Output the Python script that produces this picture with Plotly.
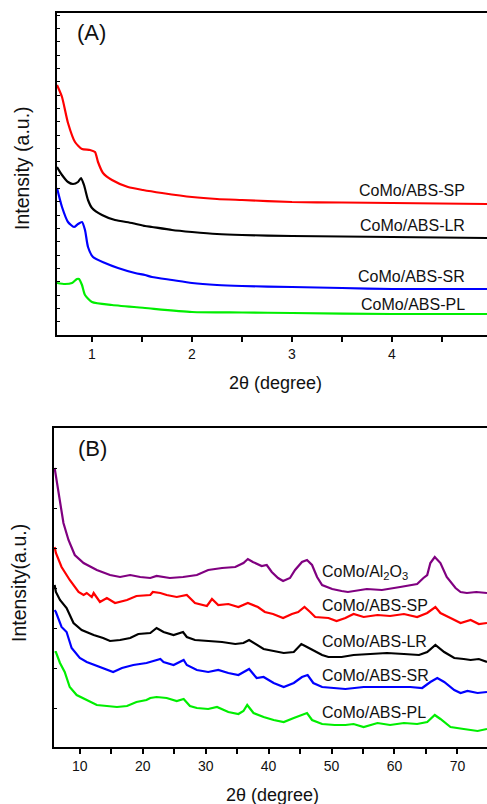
import plotly.graph_objects as go

W, H = 487, 804
FONT = "Liberation Sans, Arial, sans-serif"

# ---------------- Panel A (small-angle XRD) ----------------
a_sp_x = [0.65, 0.70, 0.76, 0.83, 0.90, 0.98, 1.03, 1.06, 1.11, 1.20, 1.36, 1.51, 1.70, 2.0, 2.25, 2.5, 3.0, 3.5, 4.0, 4.95]
a_sp_y = [250, 238, 212, 193, 186, 185, 183, 173, 162, 155, 148, 145, 142, 138, 136, 135, 133, 132.5, 132, 131]

a_lr_x = [0.65, 0.70, 0.76, 0.81, 0.86, 0.89, 0.92, 0.96, 1.00, 1.10, 1.23, 1.40, 1.53, 1.60, 1.80, 2.0, 2.25, 2.5, 3.0, 3.5, 4.0, 4.95]
a_lr_y = [168, 160, 153, 151, 153, 157, 150, 135, 127, 120, 115, 112, 109, 108, 105, 103, 101, 100, 99, 98.5, 98, 97]

a_sr_x = [0.65, 0.70, 0.76, 0.82, 0.86, 0.90, 0.93, 0.96, 1.01, 1.13, 1.26, 1.43, 1.53, 1.60, 1.80, 2.0, 2.25, 2.5, 3.0, 3.5, 4.0, 4.95]
a_sr_y = [147, 128, 113, 108, 111, 113, 105, 88, 78, 72, 67, 62, 60, 58, 55, 52, 50, 49, 48, 47, 46, 46]

a_pl_x = [0.65, 0.73, 0.80, 0.85, 0.87, 0.90, 0.93, 1.00, 1.20, 1.53, 2.0, 2.5, 3.0, 4.0, 4.95]
a_pl_y = [52, 51, 52, 56, 56, 50, 40, 33, 30, 27, 23, 22.5, 22, 21, 21]

a_labels = ["CoMo/ABS-SP", "CoMo/ABS-LR", "CoMo/ABS-SR", "CoMo/ABS-PL"]
a_label_y = [144, 109, 58, 30]

# ---------------- Panel B (wide-angle XRD) ----------------
b_al_x = [6.0, 6.85, 7.4, 8.2, 9.2, 10.6, 12.7, 14.8, 16.4, 18.0, 19.6, 21.2, 22.2, 24.3, 26.4, 28.6,
          30.4, 32.6, 34.7, 36.0, 36.7, 37.5, 38.9, 39.7, 40.5, 41.5, 42.3, 43.4, 44.2, 45.3, 46.1,
          46.9, 47.7, 48.5, 50.1, 51.6, 52.6, 55.6, 58.0, 60.9, 63.6, 64.6, 65.2, 65.7, 66.4, 67.3,
          68.3, 69.7, 70.5, 71.5, 73.0, 74.7]
b_al_y = [279, 244, 224, 207, 192, 184, 177, 172, 170, 172, 170, 169, 171, 169, 170, 172,
          177, 179, 180, 184, 188, 185, 181, 182, 175, 169, 166, 169, 177, 185, 187,
          182, 170, 162, 158, 156, 155, 158, 157, 160, 163, 169, 172, 184, 190, 184,
          170, 159, 155, 154, 155, 154]

b_sp_x = [6.0, 6.2, 7.1, 8.4, 9.8, 10.6, 11.1, 11.9, 12.2, 13.2, 14.3, 15.6, 17.5, 19.0, 21.2, 21.6,
          22.8, 23.8, 25.4, 27.0, 28.3, 30.2, 31.0, 32.0, 33.6, 35.2, 36.7, 38.3, 39.4, 40.7, 42.3,
          43.7, 44.7, 45.7, 46.6, 47.4, 49.5, 50.8, 52.2, 53.5, 55.1, 57.3, 59.3, 61.5, 63.6, 65.2,
          66.5, 67.3, 68.9, 70.5, 72.1, 73.4, 74.7]
b_sp_y = [200, 194, 180, 167, 155, 152, 154, 150, 154, 145, 149, 144, 147, 151, 152, 155,
          154, 152, 150, 152, 144, 141, 148, 142, 143, 140, 144, 140, 135, 133, 129,
          133, 135, 140, 135, 130, 129, 126, 129, 133, 130, 132, 131, 133, 130, 134,
          140, 134, 129, 124, 127, 123, 124]

b_lr_x = [6.0, 6.2, 6.85, 7.9, 9.0, 10.3, 12.2, 13.7, 14.8, 16.4, 18.0, 19.3, 21.2, 22.2, 23.3, 24.9,
          26.4, 27.0, 28.3, 30.4, 32.6, 34.7, 36.0, 36.9, 37.9, 39.2, 40.8, 42.4, 44.0, 45.2, 46.1,
          47.1, 48.5, 49.5, 51.6, 53.5, 56.2, 58.8, 61.5, 63.9, 65.2, 66.5, 67.9, 69.5, 71.0, 72.1,
          73.4, 74.7]
b_lr_y = [162, 155, 147, 139, 124, 117, 112, 109, 106, 107, 109, 113, 114, 119, 115, 112,
          115, 110, 107, 106, 105, 103, 104, 107, 103, 98, 96, 94, 95, 103, 100,
          97, 92, 90, 90, 92, 93, 94, 93, 92, 95, 102, 95, 89, 88, 87,
          88, 85]

b_sr_x = [6.0, 6.2, 7.1, 7.9, 8.7, 10.0, 11.1, 11.9, 13.2, 15.3, 16.7, 18.5, 20.6, 22.8, 23.3, 24.9,
          26.5, 27.0, 28.6, 30.4, 32.0, 33.6, 35.2, 36.9, 38.1, 39.2, 40.8, 42.4, 44.0, 45.3, 46.2,
          47.1, 48.5, 50.5, 52.2, 55.1, 58.8, 62.5, 64.4, 65.7, 66.8, 67.9, 69.5, 70.5, 71.6, 73.2,
          74.7]
b_sr_y = [137, 135, 120, 115, 99, 89, 85, 83, 80, 75, 79, 82, 84, 88, 85, 82,
          87, 82, 77, 75, 77, 74, 72, 78, 69, 70, 64, 60, 64, 70, 72,
          64, 60, 59, 58, 60, 60, 60, 59, 65, 69, 65, 57, 54, 56, 54,
          55]

b_pl_x = [6.0, 6.2, 6.85, 7.6, 8.4, 9.5, 11.1, 12.7, 14.3, 15.9, 17.5, 19.0, 20.6, 21.2, 22.2, 23.8,
          25.4, 26.5, 27.5, 28.6, 30.4, 31.8, 33.6, 35.2, 36.0, 36.6, 37.6, 39.2, 40.8, 42.4, 44.0,
          45.3, 46.1, 46.9, 48.5, 50.5, 52.2, 53.5, 55.1, 57.3, 59.3, 61.5, 63.6, 65.2, 66.4, 67.3,
          68.9, 71.0, 73.2, 74.7]
b_pl_y = [95, 95, 84, 75, 60, 52, 47, 42, 41, 40, 41, 45, 47, 49, 50, 49,
          46, 48, 41, 39, 38, 40, 35, 33, 36, 42, 34, 30, 27, 25, 29,
          32, 34, 27, 23, 22, 22, 23, 20, 24, 22, 24, 23, 25, 32, 28,
          20, 18, 16, 18]

b_labels = ["CoMo/Al<sub>2</sub>O<sub>3</sub>", "CoMo/ABS-SP", "CoMo/ABS-LR", "CoMo/ABS-SR", "CoMo/ABS-PL"]
b_label_y = [175, 142, 106, 72, 35]

colors_a = ["#ff0000", "#000000", "#0000ff", "#00ee00"]
colors_b = ["#800080", "#ff0000", "#000000", "#0000ff", "#00ee00"]


def py(p):
    """pixel row -> paper y"""
    return 1 - p / H


def px(p):
    return p / W


fig = go.Figure()
LW = 2.2
for xs, ys, c in zip([a_sp_x, a_lr_x, a_sr_x, a_pl_x], [a_sp_y, a_lr_y, a_sr_y, a_pl_y], colors_a):
    fig.add_trace(go.Scatter(x=xs, y=ys, mode="lines",
                             line=dict(color=c, width=LW, shape="spline", smoothing=0.6),
                             xaxis="x", yaxis="y", showlegend=False))
for xs, ys, c in zip([b_al_x, b_sp_x, b_lr_x, b_sr_x, b_pl_x],
                     [b_al_y, b_sp_y, b_lr_y, b_sr_y, b_pl_y], colors_b):
    fig.add_trace(go.Scatter(x=xs, y=ys, mode="lines", line=dict(color=c, width=LW),
                             xaxis="x2", yaxis="y2", showlegend=False))

tickfont = dict(family=FONT, size=14, color="#111")
common_x = dict(showline=True, linecolor="black", linewidth=2, ticks="outside", ticklen=5,
                tickwidth=1.5, tickcolor="black", showgrid=False, zeroline=False, tickfont=tickfont)
common_y = dict(showline=True, linecolor="black", linewidth=2, ticks="inside", ticklen=3,
                tickwidth=1.2, tickcolor="black", showgrid=False, zeroline=False, showticklabels=False)

fig.update_layout(
    width=W, height=H, margin=dict(l=0, r=0, t=0, b=0),
    paper_bgcolor="white", plot_bgcolor="white",
    xaxis=dict(**common_x, domain=[px(57), 1], range=[0.65, 4.95], anchor="y",
               tick0=0, dtick=1, mirror=True,
               minor=dict(ticks="outside", ticklen=5, tickwidth=1.5, dtick=0.5, tickcolor="black")),
    yaxis=dict(**common_y, domain=[py(335), py(13)], range=[0, 322], anchor="x",
               tick0=0, dtick=13.33),
    xaxis3=dict(overlaying="x", side="top", anchor="y", range=[0.65, 4.95], showline=False,
                ticks="inside", ticklen=4, tickwidth=1.5, tickcolor="black", tick0=0, dtick=1,
                showticklabels=False, showgrid=False, zeroline=False,
                minor=dict(ticks="inside", ticklen=4, tickwidth=1.5, dtick=0.5, tickcolor="black")),
    xaxis2=dict(**common_x, domain=[px(54), 1], range=[5.9, 74.7], anchor="y2",
                tick0=0, dtick=10, mirror=True,
                minor=dict(ticks="outside", ticklen=5, tickwidth=1.5, dtick=5, tickcolor="black")),
    yaxis2=dict(**common_y, domain=[py(747), py(428)], range=[0, 319], anchor="x2",
                tick0=39, dtick=40),
)

ann = []
lab_font = dict(family=FONT, size=16, color="#111")
for t, yv in zip(a_labels, a_label_y):
    ann.append(dict(text=t, x=4.75, y=yv, xref="x", yref="y", xanchor="right", yanchor="middle",
                    showarrow=False, font=lab_font))
for t, yv in zip(b_labels, b_label_y):
    ann.append(dict(text=t, x=48.2, y=yv, xref="x2", yref="y2", xanchor="left", yanchor="middle",
                    showarrow=False, font=lab_font))

panel_font = dict(family=FONT, size=22, color="#111")
ann.append(dict(text="(A)", x=px(91), y=py(33), xref="paper", yref="paper", xanchor="center",
                yanchor="middle", showarrow=False, font=panel_font))
ann.append(dict(text="(B)", x=px(92), y=py(448), xref="paper", yref="paper", xanchor="center",
                yanchor="middle", showarrow=False, font=panel_font))

title_font = dict(family=FONT, size=18, color="#111")
ann.append(dict(text="2θ (degree)", x=px(275), y=py(383), xref="paper", yref="paper",
                xanchor="center", yanchor="middle", showarrow=False, font=title_font))
ann.append(dict(text="2θ (degree)", x=px(272), y=py(795), xref="paper", yref="paper",
                xanchor="center", yanchor="middle", showarrow=False, font=title_font))
ytitle_font = dict(family=FONT, size=19.5, color="#111")
ann.append(dict(text="Intensity (a.u.)", x=px(22), y=py(168), xref="paper", yref="paper",
                xanchor="center", yanchor="middle", textangle=-90, showarrow=False, font=ytitle_font))
ann.append(dict(text="Intensity(a.u.)", x=px(19), y=py(583), xref="paper", yref="paper",
                xanchor="center", yanchor="middle", textangle=-90, showarrow=False, font=ytitle_font))

fig.update_layout(annotations=ann)
fig.write_html("out.html")
